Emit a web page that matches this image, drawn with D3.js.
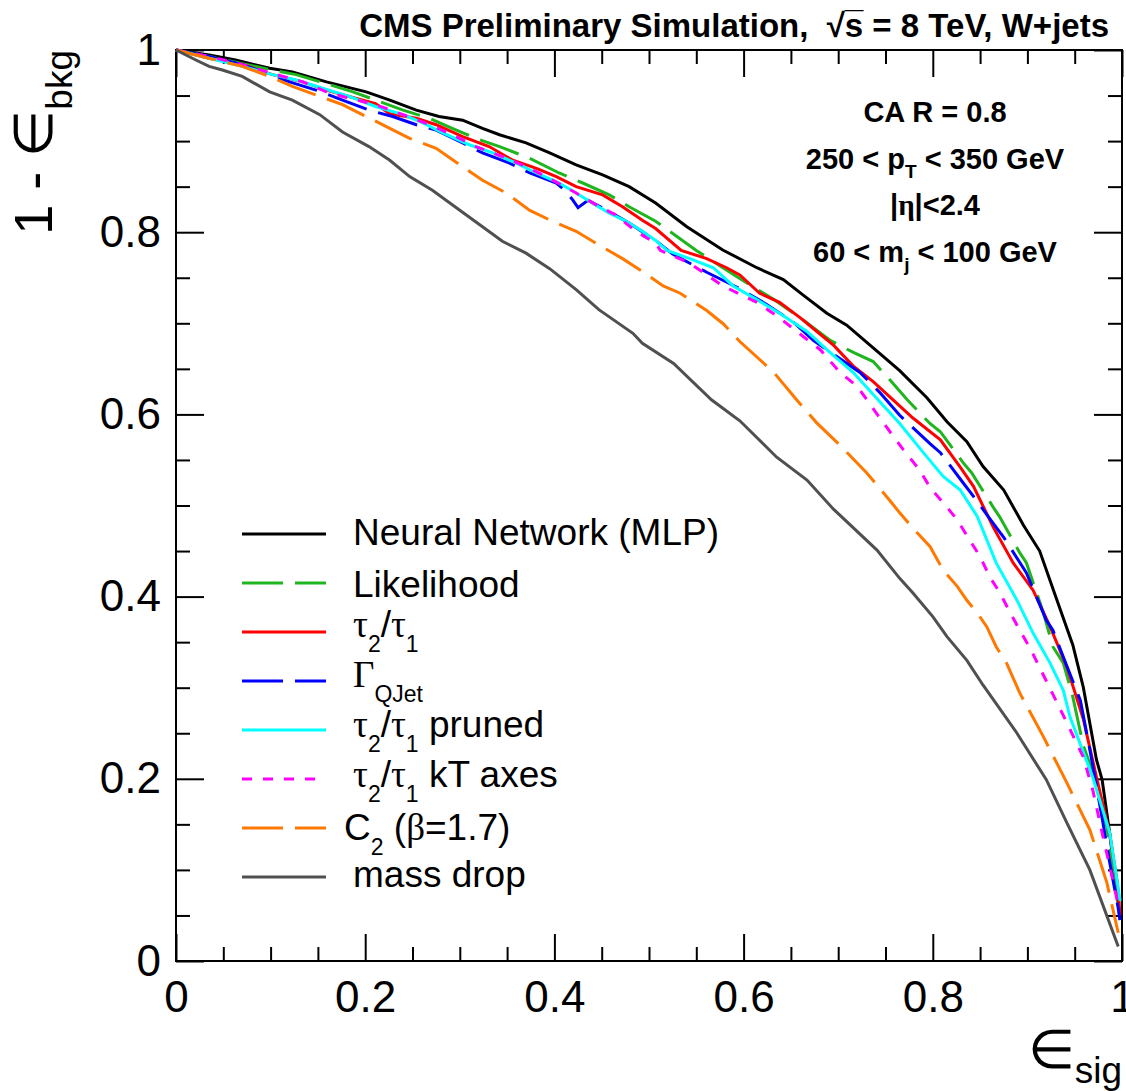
<!DOCTYPE html>
<html>
<head>
<meta charset="utf-8">
<script src="https://cdn.jsdelivr.net/npm/d3@7"></script>
<style>
  body { margin: 0; background: #fff; }
  svg { display: block; }
  text { font-family: "Liberation Sans", Arial, Helvetica, sans-serif; fill: #000; }
  .greek { font-family: "Liberation Serif", "Times New Roman", serif; }
</style>
</head>
<body>
<svg id="chart" width="1126" height="1091"></svg>
<script>
// ROC curves: signal efficiency (x) vs background rejection 1 - eff_bkg (y)
const nnMlp = [[0,1],[.035,.9945],[.063,.989],[.099,.980],[.123,.976],[.159,.965],[.201,.954],[.226,.945],[.254,.934],[.278,.927],[.303,.923],[.324,.914],[.342,.907],[.370,.898],[.395,.887],[.423,.874],[.451,.863],[.479,.850],[.507,.832],[.54,.806],[.578,.7805],[.614,.761],[.642,.748],[.663,.731],[.688,.711],[.709,.698],[.737,.673],[.765,.648],[.794,.618],[.815,.592],[.836,.570],[.853,.543],[.875,.517],[.896,.478],[.913,.450],[.935,.385],[.948,.347],[.959,.301],[.973,.221],[.979,.199],[.987,.140],[.993,.09],[.998,.045]];
const likelihood = [[0,1],[.035,.993],[.070,.985],[.102,.978],[.127,.973],[.159,.963],[.187,.954],[.211,.945],[.240,.934],[.268,.925],[.292,.914],[.317,.903],[.342,.894],[.374,.881],[.405,.865],[.430,.854],[.458,.841],[.479,.828],[.507,.812],[.550,.780],[.593,.751],[.632,.726],[.660,.706],[.692,.681],[.716,.668],[.737,.658],[.758,.634],[.773,.616],[.797,.590],[.808,.581],[.832,.547],[.841,.536],[.864,.498],[.871,.487],[.892,.448],[.899,.437],[.917,.382],[.927,.345],[.938,.327],[.948,.290],[.959,.237],[.973,.195],[.984,.147],[.991,.095],[.997,.062]];
const tau21 = [[0,1],[.035,.991],[.070,.984],[.102,.973],[.134,.965],[.159,.956],[.183,.949],[.211,.941],[.226,.930],[.254,.925],[.275,.918],[.303,.905],[.331,.894],[.356,.879],[.381,.870],[.402,.861],[.423,.850],[.451,.841],[.472,.828],[.493,.813],[.507,.804],[.534,.780],[.561,.771],[.582,.761],[.596,.753],[.617,.733],[.638,.723],[.660,.706],[.681,.688],[.695,.676],[.716,.653],[.737,.636],[.758,.616],[.779,.596],[.808,.572],[.829,.542],[.843,.521],[.864,.476],[.885,.437],[.906,.407],[.924,.367],[.942,.322],[.959,.266],[.973,.202],[.987,.140],[.995,.086],[.998,.050]];
const qjet = [[0,1],[.035,.993],[.070,.984],[.099,.973],[.120,.965],[.148,.956],[.176,.945],[.204,.934],[.229,.927],[.254,.918],[.275,.912],[.303,.898],[.324,.887],[.352,.876],[.374,.865],[.402,.854],[.411,.846],[.4197,.835],[.425,.827],[.4355,.835],[.4556,.824],[.479,.810],[.507,.791],[.525,.776],[.561,.756],[.596,.738],[.624,.721],[.653,.701],[.674,.681],[.702,.661],[.723,.646],[.744,.624],[.765,.599],[.797,.568],[.808,.558],[.832,.525],[.843,.510],[.867,.476],[.875,.465],[.899,.426],[.920,.374],[.927,.363],[.942,.323],[.956,.286],[.966,.232],[.980,.151],[.987,.108],[.995,.064],[.998,.045]];
const tau21Pruned = [[0,1],[.035,.991],[.070,.982],[.102,.973],[.127,.967],[.155,.958],[.183,.949],[.211,.938],[.240,.929],[.261,.920],[.282,.909],[.310,.896],[.335,.887],[.359,.876],[.381,.865],[.405,.854],[.423,.843],[.440,.832],[.458,.821],[.476,.812],[.493,.801],[.507,.791],[.519,.780],[.543,.771],[.568,.761],[.589,.741],[.614,.726],[.638,.711],[.667,.691],[.688,.671],[.716,.646],[.744,.614],[.765,.590],[.790,.558],[.811,.532],[.829,.517],[.847,.488],[.867,.437],[.889,.396],[.906,.360],[.924,.327],[.938,.297],[.945,.268],[.969,.202],[.987,.141],[.998,.066]];
const tau21KtAxes = [[0,1],[.035,.993],[.070,.984],[.106,.973],[.134,.965],[.159,.954],[.183,.947],[.211,.940],[.240,.929],[.268,.918],[.292,.907],[.317,.894],[.345,.883],[.370,.872],[.395,.859],[.423,.843],[.444,.830],[.465,.819],[.486,.801],[.507,.788],[.512,.780],[.543,.766],[.578,.741],[.614,.723],[.638,.706],[.660,.688],[.681,.671],[.702,.646],[.720,.631],[.744,.596],[.769,.561],[.786,.539],[.797,.520],[.815,.498],[.826,.484],[.839,.462],[.850,.444],[.860,.422],[.871,.404],[.882,.382],[.892,.363],[.903,.343],[.924,.299],[.942,.261],[.959,.224],[.969,.188],[.980,.136],[.991,.086],[.997,.055]];
const c2Beta17 = [[0,1],[.035,.991],[.070,.982],[.099,.971],[.123,.960],[.152,.949],[.176,.940],[.201,.927],[.226,.914],[.247,.903],[.275,.892],[.300,.874],[.324,.857],[.349,.843],[.374,.824],[.398,.812],[.423,.801],[.447,.786],[.472,.771],[.493,.757],[.515,.741],[.533,.733],[.561,.714],[.579,.699],[.596,.680],[.632,.646],[.656,.616],[.677,.591],[.702,.566],[.730,.536],[.755,.505],[.765,.492],[.779,.475],[.797,.455],[.811,.429],[.826,.411],[.836,.396],[.847,.382],[.857,.367],[.867,.345],[.878,.327],[.892,.294],[.917,.246],[.942,.195],[.966,.144],[.984,.086],[.996,.031]];
const massDrop = [[0,1],[.021,.989],[.035,.982],[.049,.978],[.070,.971],[.099,.954],[.123,.945],[.152,.929],[.176,.910],[.204,.894],[.226,.879],[.247,.861],[.271,.846],[.300,.824],[.324,.806],[.345,.790],[.370,.777],[.395,.760],[.423,.737],[.447,.715],[.483,.689],[.493,.678],[.526,.656],[.566,.616],[.596,.593],[.635,.553],[.667,.528],[.695,.496],[.741,.451],[.765,.420],[.779,.404],[.800,.378],[.815,.356],[.836,.330],[.853,.303],[.864,.287],[.889,.250],[.920,.199],[.942,.151],[.966,.100],[.996,.016]];

const seriesData = [nnMlp, likelihood, tau21, qjet, tau21Pruned, tau21KtAxes, c2Beta17, massDrop];

// legend labels, split into [text, isSubscript, isGreek] pieces
const legendLabels = [
  [["Neural Network (MLP)", 0]],
  [["Likelihood", 0]],
  [["τ", 0, 1], ["2", 1], ["/", 0], ["τ", 0, 1], ["1", 1]],
  [["Γ", 0, 1], ["QJet", 1]],
  [["τ", 0, 1], ["2", 1], ["/", 0], ["τ", 0, 1], ["1", 1], [" pruned", 0]],
  [["τ", 0, 1], ["2", 1], ["/", 0], ["τ", 0, 1], ["1", 1], [" kT axes", 0]],
  [["C", 0], ["2", 1], [" (", 0], ["β", 0, 1], ["=1.7)", 0]],
  [["mass drop", 0]]
];

const xTickValues = [0, 0.2, 0.4, 0.6, 0.8, 1];
const xTickLabels = ["0", "0.2", "0.4", "0.6", "0.8", "1"];
const yTickValues = [0, 0.2, 0.4, 0.6, 0.8, 1];
const yTickLabels = ["0", "0.2", "0.4", "0.6", "0.8", "1"];
const minorStep = 0.05;

const headerText = "CMS Preliminary Simulation,  √s\u0305 = 8 TeV, W+jets";
const infoLines = [
  [["CA R = 0.8", 0]],
  [["250 < p", 0], ["T", 1], [" < 350 GeV", 0]],
  [["|", 0], ["η", 0, 1], ["|<2.4", 0]],
  [["60 < m", 0], ["j", 1], [" < 100 GeV", 0]]
];

// styles per series
const colors = ["#000000", "#1fb51f", "#ff0000", "#0000ff", "#00ffff", "#ff00ff", "#ff7800", "#505050"];
const dashes = [null, "41 12", null, "41 12", null, "10 11", "41 12", null];
const legendDy = [11, 14, 5, 6, 7, 8, 12, 10];
const legendDx = [0, 0, 0, 0, 0, 0, -9, 0];

const svg = d3.select("#chart");
const frame = { left: 176, top: 50, right: 1122, bottom: 961 };

const x = d3.scaleLinear().domain([0, 1]).range([frame.left, frame.right]);
const y = d3.scaleLinear().domain([0, 1]).range([frame.bottom, frame.top]);

const minorTicks = d3.range(0, 1 + 1e-9, minorStep).filter(v => Math.abs(v / 0.2 - Math.round(v / 0.2)) > 1e-6);

function styleAxis(g) {
  g.select(".domain").remove();
  g.selectAll(".tick line").attr("stroke", "#000").attr("stroke-width", 2);
  g.selectAll(".tick text").style("font-size", "44px").attr("fill", "#000");
}

// bottom axis with labels
svg.append("g")
  .attr("transform", `translate(0,${frame.bottom})`)
  .call(d3.axisBottom(x).tickValues(xTickValues).tickSize(-27).tickPadding(20)
    .tickFormat((d, i) => xTickLabels[i]))
  .call(styleAxis);
svg.append("g")
  .attr("transform", `translate(0,${frame.bottom})`)
  .call(d3.axisBottom(x).tickValues(minorTicks).tickSize(-14).tickFormat(""))
  .call(styleAxis);
// top axis
svg.append("g")
  .attr("transform", `translate(0,${frame.top})`)
  .call(d3.axisTop(x).tickValues(xTickValues).tickSize(-27).tickFormat(""))
  .call(styleAxis);
svg.append("g")
  .attr("transform", `translate(0,${frame.top})`)
  .call(d3.axisTop(x).tickValues(minorTicks).tickSize(-14).tickFormat(""))
  .call(styleAxis);
// left axis with labels
svg.append("g")
  .attr("transform", `translate(${frame.left},0)`)
  .call(d3.axisLeft(y).tickValues(yTickValues).tickSize(-28).tickPadding(15)
    .tickFormat((d, i) => yTickLabels[i]))
  .call(styleAxis);
svg.append("g")
  .attr("transform", `translate(${frame.left},0)`)
  .call(d3.axisLeft(y).tickValues(minorTicks).tickSize(-14).tickFormat(""))
  .call(styleAxis);
// right axis
svg.append("g")
  .attr("transform", `translate(${frame.right},0)`)
  .call(d3.axisRight(y).tickValues(yTickValues).tickSize(-28).tickFormat(""))
  .call(styleAxis);
svg.append("g")
  .attr("transform", `translate(${frame.right},0)`)
  .call(d3.axisRight(y).tickValues(minorTicks).tickSize(-14).tickFormat(""))
  .call(styleAxis);

// frame
svg.append("rect")
  .attr("x", frame.left).attr("y", frame.top)
  .attr("width", frame.right - frame.left).attr("height", frame.bottom - frame.top)
  .attr("fill", "none").attr("stroke", "#000").attr("stroke-width", 2);

// curves
const line = d3.line().x(d => x(d[0])).y(d => y(d[1]));
svg.append("g").selectAll("path")
  .data(seriesData)
  .join("path")
  .attr("d", line)
  .attr("fill", "none")
  .attr("stroke", (d, i) => colors[i])
  .attr("stroke-width", 3)
  .attr("stroke-dasharray", (d, i) => dashes[i]);

// helper: write pieces with subscripts into a text element
function writePieces(text, pieces, subSize, subShift) {
  let shifted = false;
  pieces.forEach(p => {
    const t = text.append("tspan").text(p[0]);
    if (p[2]) t.attr("class", "greek");
    if (p[1] && !shifted) { t.attr("dy", subShift).style("font-size", subSize + "px"); shifted = true; }
    else if (p[1]) t.style("font-size", subSize + "px");
    else if (shifted) { t.attr("dy", -subShift); shifted = false; }
  });
}

// legend
const legendY = d3.scalePoint().domain(d3.range(legendLabels.length)).range([534, 877]);
const legend = svg.append("g");
legendLabels.forEach((lab, i) => {
  legend.append("line")
    .attr("x1", 242).attr("x2", dashes[i] === "10 11" ? 316 : 326)
    .attr("y1", legendY(i)).attr("y2", legendY(i))
    .attr("stroke", colors[i]).attr("stroke-width", 3)
    .attr("stroke-dasharray", dashes[i]);
  const t = legend.append("text")
    .attr("x", 353 + legendDx[i]).attr("y", legendY(i) + legendDy[i])
    .style("font-size", "37px")
    .style("white-space", "pre");
  writePieces(t, lab, 23, 15);
});

// header
svg.append("text")
  .attr("x", 1109).attr("y", 37)
  .attr("text-anchor", "end")
  .style("font-size", "33px").style("font-weight", "bold")
  .style("white-space", "pre")
  .text(headerText);

// info block
const infoY = d3.scalePoint().domain(d3.range(infoLines.length)).range([122, 262]);
infoLines.forEach((lab, i) => {
  const t = svg.append("text")
    .attr("x", 935).attr("y", infoY(i))
    .attr("text-anchor", "middle")
    .style("font-size", "29px").style("font-weight", "bold")
    .style("white-space", "pre");
  writePieces(t, lab, 19, 9);
});

// y title
const yTitle = svg.append("text")
  .attr("transform", `translate(52,${frame.top}) rotate(-90)`)
  .attr("text-anchor", "end")
  .style("font-size", "54px")
  .style("white-space", "pre");
yTitle.append("tspan").text("1 - ");
yTitle.append("tspan").text("∈").attr("class", "greek");
yTitle.append("tspan").text("bkg").attr("dy", 20).style("font-size", "37px");

// x title
const xTitle = svg.append("text")
  .attr("x", frame.right).attr("y", 1068)
  .attr("text-anchor", "end")
  .style("font-size", "54px");
xTitle.append("tspan").text("∈").attr("class", "greek");
xTitle.append("tspan").text("sig").attr("dy", 15).style("font-size", "37px");
</script>
</body>
</html>
